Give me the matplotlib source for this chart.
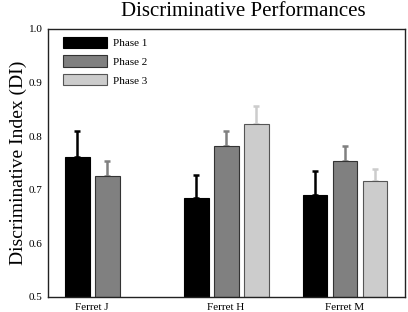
import matplotlib
matplotlib.use("Agg")
import matplotlib.pyplot as plt
import numpy as np

plt.rcParams['font.family'] = ['Liberation Serif', 'DejaVu Serif']

groups = ["Ferret J", "Ferret H", "Ferret M"]
phases = ["Phase 1", "Phase 2", "Phase 3"]
# values per phase (None = missing)
phase1 = [0.762, 0.685, 0.690]
phase2 = [0.725, 0.781, 0.753]
phase3 = [None, 0.822, 0.716]
err1 = [0.047, 0.043, 0.046]
err2 = [0.028, 0.028, 0.028]
err3 = [None, 0.035, 0.022]

colors = ["#000000", "#808080", "#cccccc"]
edges = ["#000000", "#333333", "#555555"]
ecolors = ["#000000", "#808080", "#cccccc"]

group_pos = [0.0, 4.467, 8.433]
width = 0.833

fig = plt.figure(figsize=(4.08, 3.12), dpi=100)
ax = fig.add_axes([48/408, 1-297/312, (405-48)/408, (297-29)/312])

vals = [phase1, phase2, phase3]
errs = [err1, err2, err3]
for gi, g in enumerate(groups):
    present = [pi for pi in range(3) if vals[pi][gi] is not None]
    n = len(present)
    offsets = np.arange(n) - (n - 1) / 2
    for k, pi in enumerate(present):
        x = group_pos[gi] + offsets[k]
        ax.bar(x, vals[pi][gi] - 0.5, bottom=0.5, width=width, color=colors[pi],
               edgecolor=edges[pi], linewidth=0.8, zorder=2,
               label=phases[pi] if gi == 1 else None)
        ax.errorbar(x, vals[pi][gi], yerr=[[0], [errs[pi][gi]]], fmt='none',
                    ecolor=ecolors[pi], elinewidth=1.8, capsize=2.5, capthick=1.8, zorder=1)

ax.set_ylim(0.5, 1.0)
ax.set_xlim(-1.467, 10.433)
ax.set_yticks([0.5, 0.6, 0.7, 0.8, 0.9, 1.0])
ax.set_yticklabels(["0.5", "0.6", "0.7", "0.8", "0.9", "1.0"])
ax.set_xticks(group_pos)
ax.set_xticklabels(groups)
ax.tick_params(axis='both', length=0, labelsize=8, pad=4)
for s in ax.spines.values():
    s.set_linewidth(1.0)
    s.set_color("#222222")

ax.set_ylabel("Discriminative Index (DI)", fontsize=14, labelpad=1)
fig.text(243/408, 1-12/312, "Discriminative Performances", fontsize=15,
         ha='center', va='center')

leg = ax.legend(loc='upper left', frameon=False, fontsize=8, handlelength=4.0,
                handleheight=1.2, labelspacing=0.65, handletextpad=0.5,
                borderaxespad=0.3, bbox_to_anchor=(0.02, 1.0))

fig.savefig("out.png", dpi=100)
